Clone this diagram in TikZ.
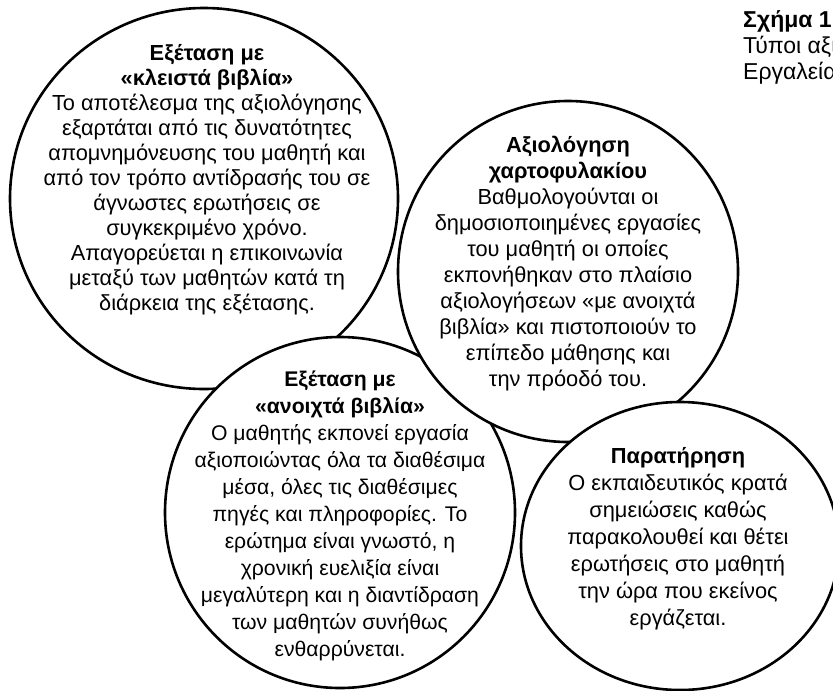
\documentclass[tikz,border=0pt]{standalone}
\usepackage{fontspec}
\setmainfont{Liberation Sans}
\begin{document}
\begin{tikzpicture}[x=1pt,y=-1pt,
  ring/.style={draw=black, line width=2.6pt, fill=white},
  txt/.style={align=center, inner sep=0pt}]
\clip (0,0) rectangle (833,691);
\fill[white] (0,0) rectangle (833,691);
% circles (drawing order gives the overlaps)
\draw[ring] (204,198.5) ellipse [x radius=194pt, y radius=190.5pt];
\draw[ring] (340,512.5) ellipse [x radius=175pt, y radius=175.5pt];
\draw[ring] (568,271.5) ellipse [x radius=170pt, y radius=170.5pt];
\draw[ring] (680,546) ellipse [x radius=159pt, y radius=144pt];
% texts
\node[txt, font=\fontsize{21.8}{25}\selectfont] (closed) at (207,180) {\textbf{Εξέταση με}\\ \textbf{«κλειστά βιβλία»}\\ Το αποτέλεσμα της αξιολόγησης\\ εξαρτάται από τις δυνατότητες\\ απομνημόνευσης του μαθητή και\\ από τον τρόπο αντίδρασής του σε\\ άγνωστες ερωτήσεις σε\\ συγκεκριμένο χρόνο.\\ Απαγορεύεται η επικοινωνία\\ μεταξύ των μαθητών κατά τη\\ διάρκεια της εξέτασης.};
\node[txt, font=\fontsize{21.8}{26}\selectfont] (portfolio) at (568,263.5) {\textbf{Αξιολόγηση}\\ \textbf{χαρτοφυλακίου}\\ Βαθμολογούνται οι\\ δημοσιοποιημένες εργασίες\\ του μαθητή οι οποίες\\ εκπονήθηκαν στο πλαίσιο\\ αξιολογήσεων «με ανοιχτά\\ βιβλία» και πιστοποιούν το\\ επίπεδο μάθησης και\\ την πρόοδό του.};
\node[txt, font=\fontsize{21.2}{27}\selectfont] (open) at (340,516) {\textbf{Εξέταση με}\\ \textbf{«ανοιχτά βιβλία»}\\ Ο μαθητής εκπονεί εργασία\\ αξιοποιώντας όλα τα διαθέσιμα\\ μέσα, όλες τις διαθέσιμες\\ πηγές και πληροφορίες. Το\\ ερώτημα είναι γνωστό, η\\ χρονική ευελιξία είναι\\ μεγαλύτερη και η διαντίδραση\\ των μαθητών συνήθως\\ ενθαρρύνεται.};
\node[txt, font=\fontsize{21.8}{27}\selectfont] (observe) at (678,539) {\textbf{Παρατήρηση}\\ Ο εκπαιδευτικός κρατά\\ σημειώσεις καθώς\\ παρακολουθεί και θέτει\\ ερωτήσεις στο μαθητή\\ την ώρα που εκείνος\\ εργάζεται.};
\node[txt, align=left, anchor=west, font=\fontsize{23}{26}\selectfont] (caption) at (743,47.5) {\textbf{Σχήμα 1}\\ Τύποι αξιολόγησης\\ Εργαλεία αξιολόγησης};
\end{tikzpicture}
\end{document}
